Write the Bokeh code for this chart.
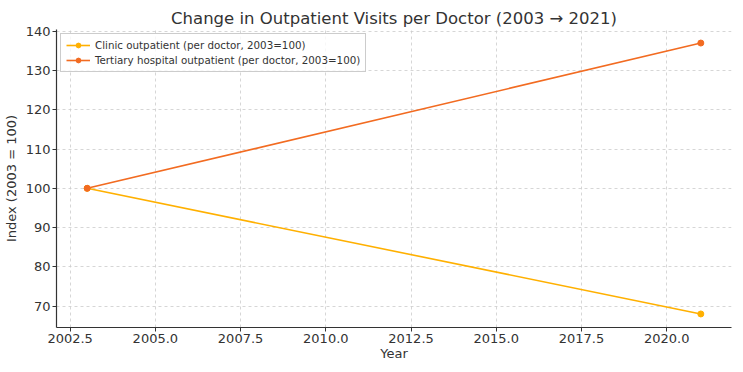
from bokeh.plotting import figure
from bokeh.models import Legend, LegendItem, FixedTicker, PrintfTickFormatter, Range1d
from bokeh.embed import file_html
from bokeh.resources import INLINE

years = [2003, 2021]
clinic = [100, 68]
tertiary = [100, 137]
clinic_label = "Clinic outpatient (per doctor, 2003=100)"
tertiary_label = "Tertiary hospital outpatient (per doctor, 2003=100)"
x_ticks = [2002.5, 2005.0, 2007.5, 2010.0, 2012.5, 2015.0, 2017.5, 2020.0]
y_ticks = [70, 80, 90, 100, 110, 120, 130, 140]

FONT = "DejaVu Sans"
TXT = "#333333"

p = figure(frame_width=675, frame_height=298, output_backend="svg", toolbar_location=None,
           x_range=Range1d(2002.1, 2021.9), y_range=Range1d(64.55, 140.45),
           min_border_left=48, min_border_right=4, min_border_top=29, min_border_bottom=0)

p.title.text = "Change in Outpatient Visits per Doctor (2003 \u2192 2021)"
p.title.align = "center"
p.title.text_font = FONT
p.title.text_font_size = "16.5px"
p.title.text_font_style = "normal"
p.title.text_color = TXT
p.title.standoff = 4

p.outline_line_color = None

for ax in (p.xaxis[0], p.yaxis[0]):
    ax.axis_label_text_font = FONT
    ax.axis_label_text_font_size = "13px"
    ax.axis_label_text_font_style = "normal"
    ax.axis_label_text_color = TXT
    ax.major_label_text_font = FONT
    ax.major_label_text_font_size = "13px"
    ax.major_label_text_color = TXT
    ax.axis_line_color = "#333333"
    ax.axis_line_width = 1.2
    ax.major_tick_line_color = "#333333"
    ax.major_tick_in = 0
    ax.major_tick_out = 4
    ax.minor_tick_line_color = None
    ax.axis_label_standoff = 0
    ax.major_label_standoff = 2

p.yaxis.axis_label_standoff = 4
p.xaxis.axis_label = "Year"
p.yaxis.axis_label = "Index (2003 = 100)"
p.xaxis.ticker = FixedTicker(ticks=x_ticks)
p.xaxis.formatter = PrintfTickFormatter(format="%.1f")
p.yaxis.ticker = FixedTicker(ticks=y_ticks)

p.grid.grid_line_color = "#cccccc"
p.grid.grid_line_dash = "3 3"
p.grid.grid_line_width = 0.8

c1 = "#FFB000"
c2 = "#F26B21"

l1 = p.line(years, clinic, line_color=c1, line_width=1.6)
s1 = p.scatter(years, clinic, size=6, fill_color=c1, line_color=c1)
l2 = p.line(years, tertiary, line_color=c2, line_width=1.6)
s2 = p.scatter(years, tertiary, size=6, fill_color=c2, line_color=c2)

legend = Legend(items=[LegendItem(label=clinic_label, renderers=[l1, s1]),
                       LegendItem(label=tertiary_label, renderers=[l2, s2])],
                location="top_left")
legend.label_text_font = FONT
legend.label_text_font_size = "10.3px"
legend.label_text_color = TXT
legend.border_line_color = "#cccccc"
legend.border_line_alpha = 1
legend.background_fill_alpha = 0.8
legend.glyph_width = 24
legend.glyph_height = 12
legend.label_height = 12
legend.spacing = 3
legend.padding = 5
legend.margin = 4
legend.label_standoff = 5
p.add_layout(legend, "center")

open("out.html", "w").write(file_html(p, INLINE))
